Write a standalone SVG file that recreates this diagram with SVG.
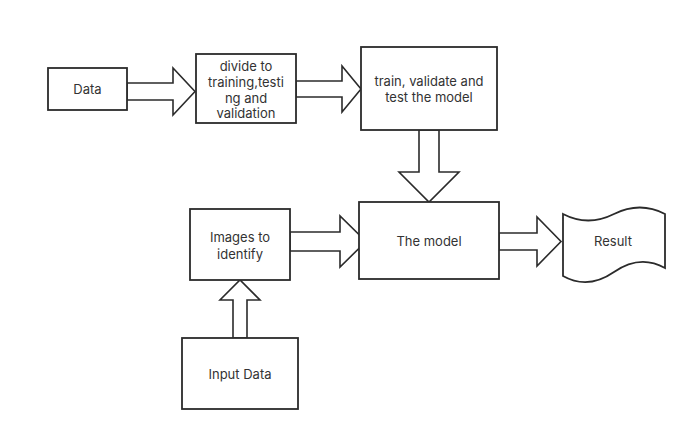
<svg xmlns="http://www.w3.org/2000/svg" width="696" height="441" viewBox="0 0 696 441">
<style>
.box{fill:#fff;stroke:#2b2b2b;stroke-width:1.8}
.arr{fill:#fff;stroke:#2b2b2b;stroke-width:1.6;stroke-linejoin:miter}
text{font-family:Inter,"Open Sans",sans-serif;font-size:13px;fill:#333;text-anchor:middle;dominant-baseline:central}
</style>
<rect width="696" height="441" fill="#fff"/>
<g id="connectors">
<polygon class="arr" points="127,83 173,83 173,68 195,91.5 173,115 173,100 127,100"/>
<polygon class="arr" points="296,81 342,81 342,66 361,89 342,112 342,97 296,97"/>
<polygon class="arr" points="419,130 419,172 399,172 429,202 459,172 439,172 439,130"/>
<polygon class="arr" points="499,233 537,233 537,217 561,241.5 537,266 537,250 499,250"/>
<polygon class="arr" points="290,232 340,232 340,216 366,241.5 340,267 340,251 290,251"/>
<polygon class="arr" points="233,338 233,300 220,300 240,280 260,300 247,300 247,338"/>
</g>
<g id="data"><rect class="box" x="48" y="68" width="79" height="42"/><text x="87.5" y="89">Data</text></g>
<g id="divide"><rect class="box" x="196" y="54" width="100" height="69"/>
<text x="246" y="65.5">divide to</text><text x="246" y="81.5">training,testi</text><text x="246" y="97.5">ng and</text><text x="246" y="113">validation</text></g>
<g id="train"><rect class="box" x="361" y="47" width="136" height="83"/>
<text x="429" y="81">train, validate and</text><text x="429" y="97">test the model</text></g>
<g id="model"><rect class="box" x="359" y="202" width="140" height="77"/><text x="429" y="241">The model</text></g>
<g id="result"><path class="box" d="M563,214 Q588,227 614,214 T665,214 L665,268 Q640,254 614,272 T563,276 Z"/><text x="613" y="241">Result</text></g>
<g id="images"><rect class="box" x="190" y="209" width="100" height="71"/><text x="240" y="237">Images to</text><text x="240" y="253.5">identify</text></g>
<g id="input"><rect class="box" x="182" y="338" width="116" height="71"/><text x="240" y="374">Input Data</text></g>
</svg>
